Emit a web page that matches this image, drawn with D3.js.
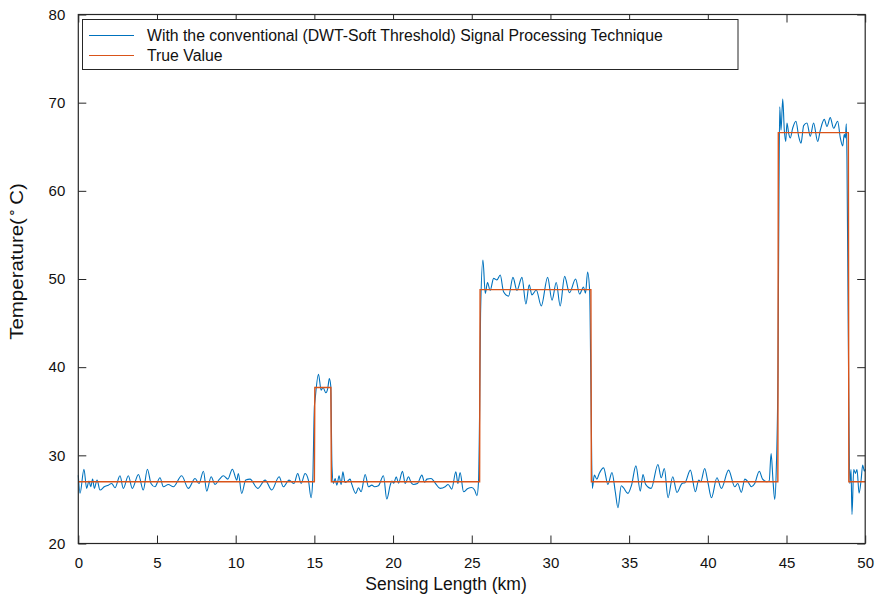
<!DOCTYPE html>
<html>
<head>
<meta charset="utf-8">
<script src="https://cdn.jsdelivr.net/npm/d3@7/dist/d3.min.js"></script>
<style>
  html, body { margin: 0; padding: 0; background: #fff; }
  svg { display: block; font-family: "Liberation Sans", Arial, Helvetica, sans-serif; }
</style>
</head>
<body>
<svg id="chart" width="880" height="603"></svg>
<script>
// Distance along the fibre (km) and the temperature recovered by DWT soft thresholding
const distanceKm = [
  0.00, 0.11, 0.36, 0.53, 0.68, 0.79, 0.91, 1.02, 1.19, 1.38, 1.65, 1.91, 2.12, 2.33, 2.65, 2.86,
  3.18, 3.43, 3.82, 4.13, 4.39, 4.62, 4.87, 5.19, 5.41, 5.72, 6.04, 6.57, 6.99, 7.42, 7.67, 7.95,
  8.16, 8.44, 8.69, 8.97, 9.22, 9.50, 9.79, 10.07, 10.17, 10.38, 10.64, 10.91, 11.40, 11.87, 12.29, 12.76,
  13.03, 13.39, 13.71, 13.94, 14.16, 14.41, 14.62, 14.79, 14.90, 15.00, 15.05, 15.26, 15.43, 15.55,
  15.73, 15.85, 15.95, 16.04, 16.12, 16.21, 16.32, 16.43, 16.57, 16.70, 16.81, 16.95, 17.12, 17.27,
  17.38, 17.63, 17.80, 17.97, 18.23, 18.44, 18.65, 18.82, 19.07, 19.39, 19.60, 19.82, 19.92, 20.05,
  20.20, 20.35, 20.60, 20.77, 20.98, 21.15, 21.30, 21.55, 21.83, 22.00, 22.15, 22.42, 22.70, 22.99,
  23.31, 23.50, 23.73, 23.99, 24.12, 24.26, 24.48, 24.75, 25.00, 25.18, 25.33, 25.43, 25.50, 25.56,
  25.71, 25.86, 26.00, 26.17, 26.39, 26.60, 26.81, 27.02, 27.34, 27.62, 27.87, 28.19, 28.44, 28.65,
  28.82, 29.10, 29.42, 29.82, 30.10, 30.37, 30.62, 30.90, 31.21, 31.60, 31.85, 32.10, 32.23, 32.36,
  32.49, 32.56, 32.66, 32.79, 32.95, 33.10, 33.38, 33.65, 33.91, 34.12, 34.29, 34.50, 34.65, 34.92,
  35.15, 35.43, 35.71, 35.88, 36.05, 36.40, 36.83, 37.04, 37.24, 37.47, 37.77, 38.04, 38.36, 38.55,
  38.89, 39.21, 39.42, 39.55, 39.80, 40.00, 40.23, 40.58, 40.86, 41.32, 41.71, 41.90, 42.13, 42.35,
  42.55, 42.77, 42.98, 43.27, 43.48, 43.75, 43.90, 44.02, 44.15, 44.25, 44.35, 44.46, 44.52, 44.57,
  44.65, 44.76, 44.86, 44.95, 45.03, 45.14, 45.24, 45.39, 45.60, 45.77, 45.92, 46.09, 46.30, 46.51,
  46.72, 46.98, 47.15, 47.40, 47.57, 47.78, 47.99, 48.25, 48.42, 48.57, 48.67, 48.74, 48.80, 48.84,
  48.92, 49.02, 49.10, 49.16, 49.27, 49.38, 49.48, 49.61, 49.74, 49.84, 49.95, 50.00
];
const measuredTemp = [
  27.75, 25.70, 28.43, 26.25, 27.08, 26.43, 27.30, 26.25, 27.19, 26.06, 26.43, 26.62, 26.81, 26.32, 27.68, 26.25,
  27.68, 26.25, 27.83, 26.06, 28.43, 26.81, 26.43, 27.45, 26.43, 26.70, 26.43, 27.68, 26.25, 27.38, 26.81, 28.20,
  25.94, 27.57, 26.70, 27.30, 27.68, 27.30, 28.43, 27.19, 27.94, 25.68, 27.19, 27.30, 26.25, 27.19, 26.06, 27.57,
  26.43, 27.19, 26.81, 27.94, 26.81, 27.94, 27.19, 25.20, 27.38, 35.50, 36.40, 39.20, 37.40, 37.70,
  37.10, 37.60, 38.70, 37.90, 28.70, 26.81, 27.38, 26.62, 27.68, 26.70, 28.13, 26.92, 27.08, 27.30,
  26.70, 25.68, 26.32, 25.87, 27.83, 26.43, 26.62, 26.43, 26.55, 27.68, 25.04, 26.62, 27.08, 26.85,
  27.57, 26.85, 28.20, 26.81, 27.57, 26.90, 26.70, 26.80, 27.75, 26.95, 27.30, 27.38, 26.80, 26.25,
  26.43, 26.70, 26.17, 28.13, 26.80, 28.06, 25.87, 26.25, 26.35, 26.06, 25.42, 27.00, 35.00, 46.10,
  52.15, 48.37, 49.60, 48.70, 50.07, 49.90, 50.45, 48.55, 48.06, 50.18, 48.70, 50.18, 47.16, 49.33,
  48.20, 48.75, 46.94, 50.18, 47.60, 49.60, 46.94, 50.30, 48.44, 50.00, 48.30, 49.10, 48.40, 50.80,
  48.70, 40.00, 26.25, 27.75, 27.30, 27.94, 28.58, 26.70, 28.06, 25.87, 24.06, 26.55, 26.30, 25.68,
  26.60, 28.81, 25.94, 27.83, 26.70, 26.25, 28.96, 27.45, 28.50, 25.19, 27.57, 25.80, 26.81, 26.90,
  28.32, 25.87, 27.19, 27.00, 28.50, 27.00, 25.19, 27.45, 26.25, 28.32, 26.43, 26.80, 25.80, 27.30,
  27.00, 26.43, 26.80, 28.20, 27.30, 27.00, 27.10, 30.20, 26.90, 25.00, 28.40, 40.00, 60.00, 69.53,
  66.88, 70.40, 66.90, 65.60, 67.70, 66.50, 66.00, 67.10, 67.90, 66.20, 65.40, 67.40, 67.70, 66.20,
  67.70, 65.60, 66.90, 68.10, 67.30, 68.30, 67.10, 67.90, 66.00, 65.10, 66.40, 66.00, 67.60, 63.90,
  45.00, 26.80, 28.40, 23.30, 28.40, 27.95, 28.40, 25.70, 27.20, 28.90, 28.20, 28.40
];

// Reference (true) temperature profile: step edges along the fibre
const trueKm   = [0, 15.00, 15.03, 16.05, 16.08, 25.50, 25.53, 32.57, 32.60, 44.45, 44.48, 48.93, 48.96, 50];
const trueTemp = [27, 27, 37.7, 37.7, 27, 27, 48.8, 48.8, 27, 27, 66.6, 66.6, 27, 27];

const xTicks = [0, 5, 10, 15, 20, 25, 30, 35, 40, 45, 50];
const yTicks = [20, 30, 40, 50, 60, 70, 80];
const legendLabels = [
  "With the conventional (DWT-Soft Threshold) Signal Processing Technique",
  "True Value"
];
const seriesColors = ["#0072BD", "#D95319"];

const svg = d3.select("#chart");
const plot = { left: 78.3, right: 865.2, top: 14.5, bottom: 543.5 };

const x = d3.scaleLinear().domain([0, 50]).range([plot.left, plot.right]);
const y = d3.scaleLinear().domain([20, 80]).range([plot.bottom, plot.top]);

const measured = distanceKm.map((d, i) => [d, measuredTemp[i]]);
const truth = trueKm.map((d, i) => [d, trueTemp[i]]);

// Data lines
svg.append("path")
  .datum(measured)
  .attr("fill", "none")
  .attr("stroke", seriesColors[0])
  .attr("stroke-width", 1.1)
  .attr("d", d3.line().x(d => x(d[0])).y(d => y(d[1])).curve(d3.curveMonotoneX));

svg.append("path")
  .datum(truth)
  .attr("fill", "none")
  .attr("stroke", seriesColors[1])
  .attr("stroke-width", 1.4)
  .attr("d", d3.line().x(d => x(d[0])).y(d => y(d[1])));

// Box axes with inward ticks on all four sides
const tickLen = 8;
const axisColor = "#262626";
const tickFont = 15;

const axB = svg.append("g").attr("transform", `translate(0,${plot.bottom})`)
  .call(d3.axisBottom(x).tickValues(xTicks).tickSize(-tickLen).tickPadding(tickLen + 6).tickFormat(d3.format("d")));
const axT = svg.append("g").attr("transform", `translate(0,${plot.top})`)
  .call(d3.axisTop(x).tickValues(xTicks).tickSize(-tickLen).tickFormat(""));
const axL = svg.append("g").attr("transform", `translate(${plot.left},0)`)
  .call(d3.axisLeft(y).tickValues(yTicks).tickSize(-tickLen).tickPadding(tickLen + 5).tickFormat(d3.format("d")));
const axR = svg.append("g").attr("transform", `translate(${plot.right},0)`)
  .call(d3.axisRight(y).tickValues(yTicks).tickSize(-tickLen).tickFormat(""));

[axB, axT, axL, axR].forEach(g => {
  g.select(".domain").remove();
  g.selectAll(".tick line").attr("stroke", axisColor).attr("stroke-width", 1);
  g.selectAll(".tick text").attr("fill", "#111").style("font-size", tickFont + "px")
    .style("font-family", "'Liberation Sans', Arial, sans-serif");
});

svg.append("rect")
  .attr("x", plot.left).attr("y", plot.top)
  .attr("width", plot.right - plot.left).attr("height", plot.bottom - plot.top)
  .attr("fill", "none").attr("stroke", axisColor).attr("stroke-width", 1.2);

// Axis titles
svg.append("text")
  .attr("x", 446).attr("y", 590)
  .attr("text-anchor", "middle").attr("fill", "#111")
  .style("font-size", "17.5px")
  .text("Sensing Length (km)");

const yTitle = svg.append("text")
  .attr("transform", "translate(22.5,261.5) rotate(-90) scale(1.17,1)")
  .attr("text-anchor", "middle").attr("fill", "#111")
  .style("font-size", "17.5px");
yTitle.append("tspan").text("Temperature(");
yTitle.append("tspan").attr("dx", 1).attr("dy", -7).style("font-size", "12px").text("∘");
yTitle.append("tspan").attr("dx", 3).attr("dy", 7).text("C)");

// Legend
const legend = svg.append("g");
legend.append("rect")
  .attr("x", 82.5).attr("y", 19.5).attr("width", 655.5).attr("height", 50)
  .attr("fill", "#fff").attr("stroke", axisColor).attr("stroke-width", 1);
legendLabels.forEach((label, i) => {
  const cy = 35.5 + i * 20;
  legend.append("line")
    .attr("x1", 89).attr("x2", 134).attr("y1", cy).attr("y2", cy)
    .attr("stroke", seriesColors[i]).attr("stroke-width", 1.2);
  legend.append("text")
    .attr("x", 147).attr("y", cy + 5.5)
    .attr("fill", "#111").style("font-size", "15.8px")
    .text(label);
});
</script>
</body>
</html>
